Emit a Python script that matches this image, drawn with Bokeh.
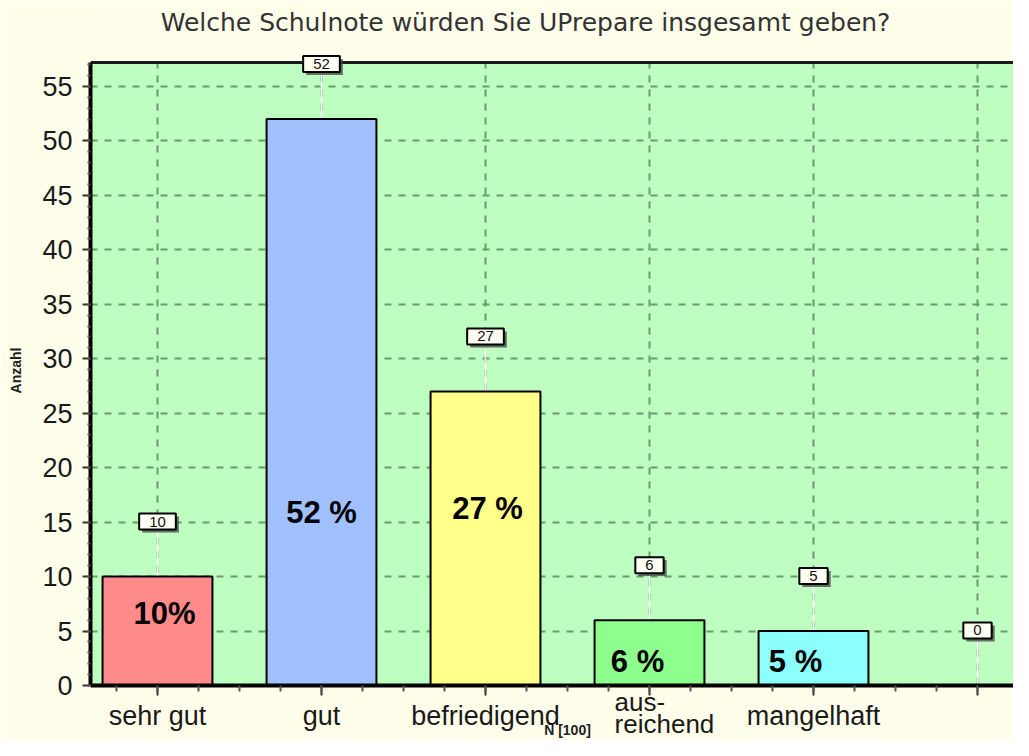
from bokeh.plotting import figure
from bokeh.models import Range1d, FixedTicker, SingleIntervalTicker, Label, BoxAnnotation, Span
from bokeh.core.properties import value
from bokeh.embed import file_html
from bokeh.resources import INLINE
import numpy as np

# ---------------- data ----------------
title_text = "Welche Schulnote würden Sie UPrepare insgesamt geben?"
categories = ["sehr gut", "gut", "befriedigend", "aus-\nreichend", "mangelhaft", ""]
counts = [10, 52, 27, 6, 5, 0]
pct_labels = ["10%", "52 %", "27 %", "6 %", "5 %", ""]
bar_colors = ["#FF8A8A", "#A0C0FF", "#FFFF8A", "#8CFF8C", "#8CFFFF", "#FFFFFF"]
y_label = "Anzahl"
x_label = "N [100]"

# ---------------- layout / style ----------------
Y_TOP = 57.2                              # top of the green plotting area
pct_dx = [7, 0, 2, -12, -18, 0]           # px offsets of the percentage texts
pct_dy = [-72, -173, -177, -24, -24, 0]
box_gap = 5.05                            # value-box distance above bar (axis units)
FONT = "Liberation Sans"
CREAM = "#FFFEEA"
GREEN = "#BEFEC0"

xs = list(range(len(categories)))
box_y = [c + box_gap for c in counts]

p = figure(width=1013, height=740,
           x_range=Range1d(-0.4085, 5.2195), y_range=Range1d(-5.05, 62.89),
           output_backend="svg", toolbar_location=None,
           min_border_left=90, min_border_right=0, min_border_top=0, min_border_bottom=0,
           background_fill_color=CREAM, border_fill_color=CREAM,
           outline_line_color=None)
p.title.visible = False

# green plotting area (below the grid)
p.add_layout(BoxAnnotation(bottom=0, top=Y_TOP, fill_color=GREEN, fill_alpha=1,
                           line_color=None, level="image"))

# axes
p.xaxis.ticker = FixedTicker(ticks=xs, minor_ticks=list(np.arange(-0.25, 5.3, 0.25)))
p.xaxis.major_label_overrides = {i: ("" if "\n" in c else c) for i, c in enumerate(categories)}
p.xaxis.fixed_location = 0
p.yaxis.ticker = SingleIntervalTicker(interval=5, num_minor_ticks=5)
p.yaxis.bounds = (0, Y_TOP)

for ax in (p.xaxis[0], p.yaxis[0]):
    ax.axis_line_width = 4
    ax.axis_line_color = "black"
    ax.major_tick_line_color = "#333333"
    ax.major_tick_line_width = 2
    ax.minor_tick_line_color = "#555555"
    ax.minor_tick_line_width = 2
    ax.major_tick_in = 0
    ax.minor_tick_in = 0
    ax.major_label_text_font = FONT
    ax.major_label_text_font_size = "27px"
    ax.major_label_text_color = "#1a1a1a"

p.yaxis.major_tick_out = 8
p.yaxis.minor_tick_out = 3
p.yaxis.major_label_standoff = 10
p.xaxis.major_tick_out = 10
p.xaxis.minor_tick_out = 6
p.xaxis.major_label_standoff = 6

p.yaxis.axis_label = y_label
p.yaxis.axis_label_text_font = FONT
p.yaxis.axis_label_text_font_size = "14px"
p.yaxis.axis_label_text_font_style = "bold"
p.yaxis.axis_label_text_color = "#222222"
p.yaxis.axis_label_standoff = 15

# grid
for g in (p.xgrid[0], p.ygrid[0]):
    g.grid_line_color = "#6A9A70"
    g.grid_line_dash = "7 7"
    g.grid_line_width = 2

# cream areas outside the plotting area, top border line
p.add_layout(BoxAnnotation(bottom=Y_TOP, fill_color=CREAM, fill_alpha=1, line_color=None, level="underlay"))
p.add_layout(BoxAnnotation(top=0, fill_color=CREAM, fill_alpha=1, line_color=None, level="underlay"))
p.add_layout(Span(location=Y_TOP, dimension="width", line_color="#1a1a1a", line_width=3, level="underlay"))

# leader lines
p.segment(x0=xs, y0=counts, x1=xs, y1=box_y, line_color="white", line_width=1.5)

# bars
p.vbar(x=xs, top=counts, width=0.67, fill_color=bar_colors, line_color="black", line_width=2)

# value boxes (shadow + box)
vals = [str(c) for c in counts]
p.text(x=xs, y=box_y, text=vals, text_font=value(FONT), text_font_size="15px",
       text_align="center", text_baseline="middle", text_alpha=0,
       background_fill_color="#4a4a4a", background_fill_alpha=0.8, border_line_color=None,
       padding=(10, 3), x_offset=3, y_offset=3)
p.text(x=xs, y=box_y, text=vals, text_font=value(FONT), text_font_size="15px",
       text_align="center", text_baseline="middle", text_color="#111111",
       background_fill_color="#FFFFF4", border_line_color="black", border_line_width=2,
       padding=(10, 3))

# percentage labels
p.text(x=xs, y=[0] * len(xs), text=pct_labels, x_offset=pct_dx, y_offset=pct_dy,
       text_font=value(FONT), text_font_size="31px", text_font_style="bold",
       text_align="center", text_baseline="middle", text_color="black")

# title
p.add_layout(Label(x=2.244, y=60.87, text=title_text, text_font="DejaVu Sans",
                   text_font_size="25px", text_color="#333333",
                   text_align="center", text_baseline="middle"))

# two-line category label
for i, c in enumerate(categories):
    if "\n" in c:
        l1, l2 = c.split("\n")
        p.add_layout(Label(x=i - 0.213, y=-1.56, text=l1, text_font=FONT, text_font_size="26px",
                           text_color="#1a1a1a", text_align="left", text_baseline="alphabetic"))
        p.add_layout(Label(x=i - 0.213, y=-3.49, text=l2, text_font=FONT, text_font_size="26px",
                           text_color="#1a1a1a", text_align="left", text_baseline="alphabetic"))

# x axis note
p.add_layout(Label(x=2.5, y=-4.05, text=x_label, text_font=FONT, text_font_size="14px",
                   text_font_style="bold", text_color="#222222",
                   text_align="center", text_baseline="alphabetic"))

open("out.html", "w").write(file_html(p, INLINE))
